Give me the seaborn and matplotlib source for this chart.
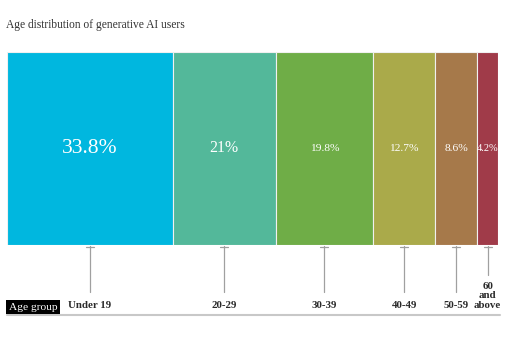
import matplotlib
matplotlib.use("Agg")
import matplotlib.pyplot as plt
import seaborn as sns
import numpy as np
import pandas as pd

categories = ["Under 19", "20-29", "30-39", "40-49", "50-59", "60\nand\nabove"]
values = [33.8, 21.0, 19.8, 12.7, 8.6, 4.2]
value_labels = ["33.8%", "21%", "19.8%", "12.7%", "8.6%", "4.2%"]
colors = ["#00B7DF", "#53B89A", "#6FAD47", "#AAAA4A", "#A6794A", "#A03B49"]
label_sizes = [15.5, 11.3, 8.2, 8.2, 8.2, 7.5]

sns.set_theme(style="white")
plt.rcParams['font.family'] = ['Liberation Serif', 'DejaVu Serif']

W, H = 508, 338
fig = plt.figure(figsize=(W / 100, H / 100), dpi=100)
ax = fig.add_axes([7 / W, (H - 245) / H, 491 / W, 193 / H])

edges = np.concatenate([[0], np.cumsum(values)])
centers = (edges[:-1] + edges[1:]) / 2
df = pd.DataFrame({"center": centers})
sns.histplot(data=df, x="center", bins=list(edges), ax=ax,
             stat="count", element="bars", linewidth=0.8, alpha=1)
for p, c in zip(ax.patches, colors):
    p.set_facecolor(c)
    p.set_edgecolor("#f0f0f0")

ax.set_xlim(0, edges[-1])
ax.set_ylim(0, 1)
ax.set_axis_off()

for i, (cx, lab, fs) in enumerate(zip(centers, value_labels, label_sizes)):
    ax.text(cx, 0.5, lab, ha="center", va="center", color="white", fontsize=fs)

# leader lines and category labels
for i, (cx, cat) in enumerate(zip(centers, categories)):
    y_end = -0.155 if i == len(categories) - 1 else -0.245
    ax.plot([cx, cx], [-0.005, y_end], color="#a0a0a0", lw=0.9, clip_on=False)
    ax.plot([cx - 0.8, cx + 0.8], [-0.008, -0.008], color="#a0a0a0", lw=0.9, clip_on=False)
    ax.text(cx, -0.335, cat, ha="center", va="bottom", fontsize=7.8,
            fontweight="bold", color="#2a2a2a", linespacing=1.05, clip_on=False)

# bottom rule
fig.add_artist(plt.Line2D([7 / W, 500 / W], [(H - 315) / H] * 2, color="#c8c8c8", lw=1.5))

# "Age group" box
fig.text(9 / W, (H - 307) / H, "Age group", ha="left", va="center", color="white",
         fontsize=8.2, bbox=dict(boxstyle="square,pad=0.25", fc="black", ec="none"))

fig.text(6 / W, (H - 25) / H, "Age distribution of generative AI users", ha="left",
         va="center", fontsize=8.3, color="#333333")

fig.savefig("out.png", dpi=100, facecolor="white")
